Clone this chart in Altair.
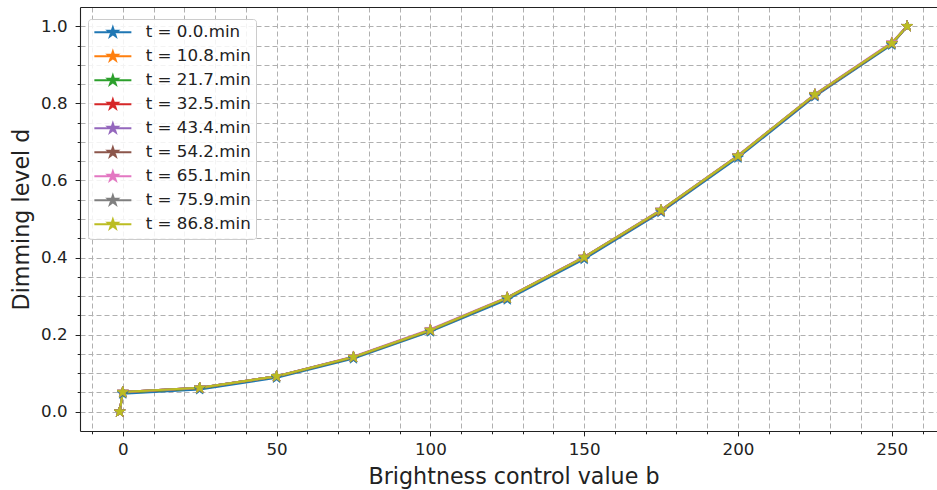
import math
import altair as alt
import pandas as pd

# ---------------- data ----------------
brightness = [-1, 0, 25, 50, 75, 100, 125, 150, 175, 200, 225, 250, 255]

series_labels = [
    "t = 0.0.min", "t = 10.8.min", "t = 21.7.min", "t = 32.5.min", "t = 43.4.min",
    "t = 54.2.min", "t = 65.1.min", "t = 75.9.min", "t = 86.8.min",
]

d_t00 = [0.000, 0.047, 0.058, 0.088, 0.138, 0.208, 0.291, 0.396, 0.518, 0.659, 0.818, 0.952, 1.000]
d_t10 = [0.000, 0.050, 0.061, 0.091, 0.141, 0.211, 0.295, 0.400, 0.521, 0.663, 0.821, 0.955, 1.000]
d_t21 = [0.000, 0.050, 0.061, 0.091, 0.141, 0.211, 0.295, 0.400, 0.522, 0.663, 0.822, 0.955, 1.000]
d_t32 = [0.000, 0.051, 0.062, 0.092, 0.142, 0.212, 0.296, 0.401, 0.522, 0.664, 0.822, 0.956, 1.000]
d_t43 = [0.000, 0.051, 0.062, 0.092, 0.142, 0.212, 0.296, 0.401, 0.523, 0.664, 0.823, 0.956, 1.000]
d_t54 = [0.000, 0.051, 0.062, 0.092, 0.142, 0.212, 0.296, 0.401, 0.523, 0.664, 0.823, 0.956, 1.000]
d_t65 = [0.000, 0.051, 0.062, 0.092, 0.143, 0.214, 0.297, 0.402, 0.524, 0.665, 0.824, 0.958, 1.000]
d_t75 = [0.000, 0.051, 0.062, 0.092, 0.142, 0.212, 0.296, 0.401, 0.523, 0.664, 0.823, 0.956, 1.000]
d_t86 = [0.000, 0.051, 0.062, 0.092, 0.142, 0.212, 0.296, 0.401, 0.523, 0.664, 0.823, 0.956, 1.000]

series_values = [d_t00, d_t10, d_t21, d_t32, d_t43, d_t54, d_t65, d_t75, d_t86]

series_colors = ["#1f77b4", "#ff7f0e", "#2ca02c", "#d62728", "#9467bd",
                 "#8c564b", "#e377c2", "#7f7f7f", "#bcbd22"]

x_tick_values = list(range(-10, 261, 10))
y_tick_values = [round(i * 0.05, 2) for i in range(21)]

rows = []
for k, (lab, vals) in enumerate(zip(series_labels, series_values)):
    for b, d in zip(brightness, vals):
        rows.append({"b": b, "d": d, "series": lab, "order": k})
df = pd.DataFrame(rows)


# ---------------- styling helpers ----------------
def star_path(cx, cy, R):
    r = R * 0.381966
    pts = []
    for k in range(10):
        ang = math.radians(-90 + 36 * k)
        rad = R if k % 2 == 0 else r
        pts.append((cx + rad * math.cos(ang), cy + rad * math.sin(ang)))
    return "M" + "L".join(f"{x:.4f},{y:.4f}" for x, y in pts) + "Z"


point_shape = star_path(0, 0, 1.0)
legend_shape = "M-1,0L4.29,0" + star_path(1.645, 0, 0.7)

FONT = "DejaVu Sans"
TXT = "#222222"
GRID = "#b0b0b0"

color_scale = alt.Scale(domain=series_labels, range=series_colors)

x_scale = alt.Scale(domain=[-13.9, 264.7], nice=False, zero=False)
y_scale = alt.Scale(domain=[-0.05, 1.05], nice=False, zero=False)

y_axis = alt.Axis(
    values=y_tick_values,
    labelExpr="round(datum.value*20) % 4 === 0 ? format(datum.value, '.1f') : ''",
    tickSize={"expr": "round(datum.value*20) % 4 === 0 ? 4.9 : 2.8"},
    tickColor=TXT, tickWidth=1,
    domainColor=TXT, domainWidth=1.1,
    grid=True, gridColor=GRID, gridDash=[5, 3], gridWidth=1,
    labelFont=FONT, labelFontSize=16.7, labelColor=TXT, labelPadding=8,
    title="Dimming level d", titleFont=FONT, titleFontSize=22.2, titleFontWeight="normal",
    titleColor=TXT, titleAngle=270, titleBaseline="alphabetic", titleAlign="center",
    titleX=-52, titleY=212,
)

x_axis_bottom = alt.Axis(
    orient="bottom",
    values=x_tick_values,
    labelExpr="datum.value % 50 === 0 ? datum.label : ''",
    tickSize={"expr": "datum.value % 50 === 0 ? 4.9 : 2.8"},
    tickColor=TXT, tickWidth=1,
    domainColor=TXT, domainWidth=1.1,
    grid=True, gridColor=GRID, gridDash=[5, 3], gridWidth=1,
    labelFont=FONT, labelFontSize=16.7, labelColor=TXT, labelPadding=6,
    labelFlush=False, labelOverlap=False,
    title="Brightness control value b", titleFont=FONT, titleFontSize=22.2,
    titleFontWeight="normal", titleColor=TXT, titleBaseline="alphabetic",
    titleAlign="center", titleX=433.5, titleY=52,
)

x_axis_top = alt.Axis(
    orient="top", ticks=False, labels=False, grid=False, title=None,
    domainColor=TXT, domainWidth=1.1,
)

legend_def = alt.Legend(
    title=None, orient="none", legendX=8, legendY=12,
    fillColor="rgba(255,255,255,0.85)", strokeColor="#cccccc", cornerRadius=3,
    padding=5, labelFont=FONT, labelFontSize=16.7, labelColor=TXT,
    labelOffset=36, rowPadding=5,
    symbolType=legend_shape, symbolSize=196, symbolStrokeWidth=2,
    symbolOpacity=1,
)

base = alt.Chart(df)

lines = base.mark_line(strokeWidth=2.1).encode(
    x=alt.X("b:Q", scale=x_scale, axis=x_axis_bottom),
    y=alt.Y("d:Q", scale=y_scale, axis=y_axis),
    color=alt.Color("series:N", scale=color_scale, legend=legend_def),
    order="b:Q",
)

points = base.mark_point(shape=point_shape, size=132, filled=True, opacity=1,
                         strokeWidth=0.8).encode(
    x=alt.X("b:Q", scale=x_scale, axis=x_axis_top),
    y=alt.Y("d:Q", scale=y_scale, axis=y_axis),
    color=alt.Color("series:N", scale=color_scale, legend=legend_def),
    stroke=alt.Stroke("series:N", scale=color_scale, legend=None),
)

chart = (
    alt.layer(lines, points)
    .resolve_axis(x="independent")
    .properties(
        width=857, height=424,
        autosize=alt.AutoSizeParams(type="none"),
        padding={"left": 80, "top": 7, "right": 0, "bottom": 59},
        background="white",
    )
    .configure_view(stroke=None)
)

chart.save("out.html", embed_options={"renderer": "svg", "actions": False})
